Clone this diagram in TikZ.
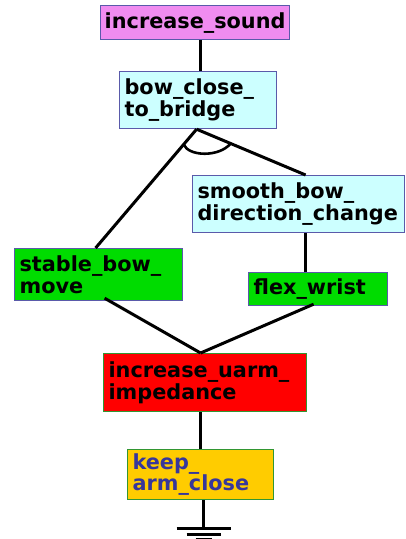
\documentclass[tikz,border=0pt]{standalone}
\usepackage{fontspec}
\setmainfont{DejaVu Sans}
\usetikzlibrary{calc}
\definecolor{pinkfill}{RGB}{240,140,240}
\definecolor{cyanfill}{RGB}{204,255,255}
\definecolor{greenfill}{RGB}{0,220,0}
\definecolor{redfill}{RGB}{255,0,0}
\definecolor{goldfill}{RGB}{255,204,0}
\definecolor{slateedge}{RGB}{90,90,170}
\definecolor{greenedge}{RGB}{50,150,50}
\definecolor{indigotext}{RGB}{55,55,155}
\tikzset{
  goal/.style={draw=slateedge, line width=1.2pt, rectangle, anchor=north west,
    inner xsep=5pt, inner ysep=0pt, align=left,
    font=\fontsize{20.8}{21.7}\selectfont\bfseries},
  goalgreen/.style={goal, draw=greenedge},
  link/.style={line width=3pt, black},
}
\begin{document}
\begin{tikzpicture}[x=1pt, y=-1pt]
\useasboundingbox (0,0) rectangle (406,539);

% goal boxes
\node[goal, fill=pinkfill, inner xsep=1.5pt, text width=186pt, minimum height=34pt, align=center] (sound) at (100,5) {increase\_sound};
\node[goal, fill=cyanfill, text width=147pt, minimum height=57pt] (bow) at (119,71) {bow\_close\_\\to\_bridge};
\node[goal, fill=cyanfill, text width=202pt, minimum height=57pt] (smooth) at (192,175) {smooth\_bow\_\\direction\_change};
\node[goal, fill=greenfill, text width=158pt, minimum height=52pt] (stable) at (14,248) {stable\_bow\_\\move};
\node[goal, fill=greenfill, text width=129pt, minimum height=33pt] (flex) at (248,272) {flex\_wrist};
\node[goalgreen, fill=redfill, text width=193pt, minimum height=58pt] (uarm) at (103,353) {increase\_uarm\_\\impedance};
\node[goalgreen, fill=goldfill, text=indigotext, text width=136pt, minimum height=50pt] (keep) at (127,449) {keep\_\\arm\_close};

% attachment points on the boxes
\coordinate (soundB) at ($(sound.south)+(5.5,0)$);
\coordinate (bowT)   at ($(bow.north)+(2.5,0)$);
\coordinate (bowB)   at ($(bow.south)+(-1.5,0)$);
\coordinate (stableT) at ($(stable.north)+(-3,0)$);
\coordinate (stableB) at ($(stable.south)+(6,-3)$);
\coordinate (smoothT) at ($(smooth.north)+(7,0)$);
\coordinate (smoothB) at ($(smooth.south)+(7,0)$);
\coordinate (flexT)  at ($(flex.north)+(-12.5,0)$);
\coordinate (flexB)  at ($(flex.south)+(-4.5,-2)$);
\coordinate (uarmT)  at ($(uarm.north)+(-4.5,0)$);
\coordinate (uarmB)  at ($(uarm.south)+(-4.5,0)$);
\coordinate (keepT)  at ($(keep.north)+(0,0)$);
\coordinate (keepB)  at ($(keep.south)+(3,0)$);
\coordinate (gnd)    at ($(keepB)+(0,28)$);

% connectors
\draw[link] (soundB) -- (bowT);
\draw[link] (bowB) -- (stableT);
\draw[link] (bowB) -- (smoothT);
\draw[link] (smoothB) -- (flexT);
\draw[link] (stableB) -- (uarmT);
\draw[link] (flexB) -- (uarmT);
\draw[link] (uarmB) -- (keepT);

% AND arc across the two branches
\coordinate (arcL) at ($(bowB)!20pt!(stableT)$);
\coordinate (arcR) at ($(bowB)!37pt!(smoothT)$);
\draw[line width=2.6pt] (arcL) .. controls ($(arcL)+(5,12)$) and ($(arcR)+(-12,14)$) .. (arcR);

% ground symbol
\draw[link] (keepB) -- (gnd);
\draw[line width=3pt] ($(gnd)+(-27,0)$) -- ($(gnd)+(27,0)$);
\draw[line width=3pt] ($(gnd)+(-17,6)$) -- ($(gnd)+(17,6)$);
\draw[line width=3pt] ($(gnd)+(-8,11.5)$) -- ($(gnd)+(8,11.5)$);
\end{tikzpicture}
\end{document}
